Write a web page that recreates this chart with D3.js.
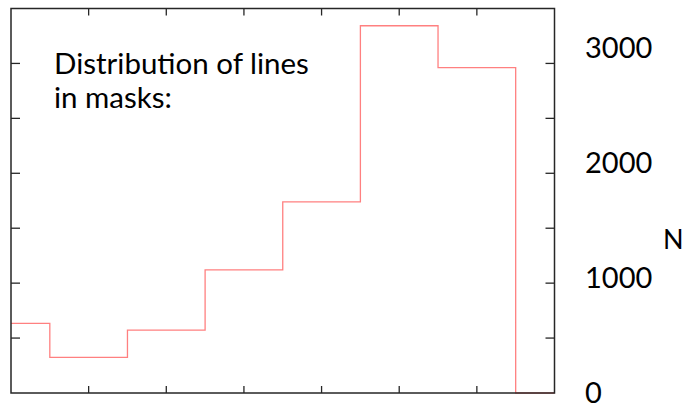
<!DOCTYPE html>
<html>
<head>
<meta charset="utf-8">
<script src="https://cdn.jsdelivr.net/npm/d3@7"></script>
<style>
  html, body { margin: 0; padding: 0; background: #fff; }
  text { font-family: Lato, "Open Sans", sans-serif; fill: #000; }
</style>
</head>
<body>
<svg id="chart" width="686" height="406"></svg>
<script>
// Bin centres (0..7) and the number of lines per bin
const bins = [0, 1, 2, 3, 4, 5, 6, 7];
const counts = [634, 325, 573, 1120, 1739, 3343, 2961, 0];
// Axis tick values
const xTicks = [1, 2, 3, 4, 5, 6];
const yMinorTicks = [500, 1000, 1500, 2000, 2500, 3000];
const yLabels = [0, 1000, 2000, 3000];
const titleLines = ["Distribution of lines", "in masks:"];
const yTitle = "N";

const svg = d3.select("#chart");

const x = d3.scaleLinear().domain([0, 7]).range([11, 554.5]);
const y = d3.scaleLinear().domain([0, 3500]).range([393, 8.5]);
// tick labels sit on a slightly wider spacing than the ticks
const yLab = d3.scaleLinear().domain([0, 3000]).range([392.5, 47.8]);

const frameColor = "#262626";

// step histogram
const line = d3.line()
  .x((d, i) => x(bins[i]))
  .y(d => y(d))
  .curve(d3.curveStep);

svg.append("path")
  .datum(counts)
  .attr("d", line)
  .attr("fill", "none")
  .attr("stroke", "#ff8080")
  .attr("stroke-width", 1.3);

// inward ticks on all four sides
const tickG = svg.append("g").attr("stroke", frameColor).attr("stroke-width", 1.3);
xTicks.forEach(t => {
  tickG.append("line").attr("x1", x(t)).attr("x2", x(t)).attr("y1", y(0)).attr("y2", y(0) - 7);
  tickG.append("line").attr("x1", x(t)).attr("x2", x(t)).attr("y1", y(3500)).attr("y2", y(3500) + 7);
});
yMinorTicks.forEach(t => {
  tickG.append("line").attr("x1", x(0)).attr("x2", x(0) + 9).attr("y1", y(t)).attr("y2", y(t));
  tickG.append("line").attr("x1", x(7)).attr("x2", x(7) - 9).attr("y1", y(t)).attr("y2", y(t));
});

// frame
svg.append("rect")
  .attr("x", x(0)).attr("y", y(3500))
  .attr("width", x(7) - x(0)).attr("height", y(0) - y(3500))
  .attr("fill", "none")
  .attr("stroke", frameColor)
  .attr("stroke-width", 1.5);

// right-hand tick labels
svg.append("g").selectAll("text")
  .data(yLabels)
  .join("text")
  .attr("x", 585)
  .attr("y", d => yLab(d))
  .attr("dy", "0.36em")
  .attr("font-size", 29)
  .text(d => d);

// axis title
svg.append("text")
  .attr("x", 663)
  .attr("y", 248.5)
  .attr("font-size", 27)
  .text(yTitle);

// annotation
svg.append("g").selectAll("text")
  .data(titleLines)
  .join("text")
  .attr("x", 54)
  .attr("y", (d, i) => 74 + i * 34)
  .attr("font-size", 29.5)
  .text(d => d);
</script>
</body>
</html>
